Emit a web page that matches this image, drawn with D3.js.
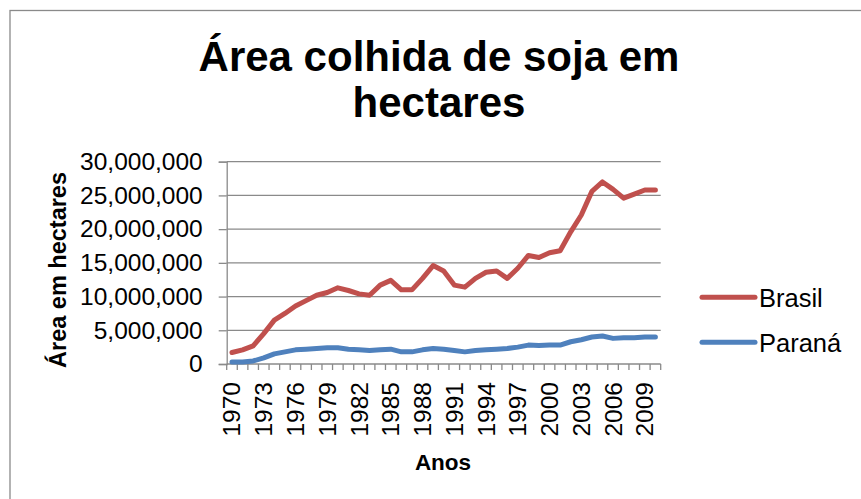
<!DOCTYPE html>
<html><head><meta charset="utf-8">
<script src="https://cdn.jsdelivr.net/npm/d3@7"></script>
<style>body{margin:0;background:#fff}svg{display:block}text{font-family:"Liberation Sans",Arial,sans-serif;fill:#000}</style>
</head><body>
<svg id="c" width="861" height="499"></svg>
<script>
const years = d3.range(1970, 2011);
const brasil = [1.7,2.1,2.7,4.5,6.5,7.5,8.6,9.4,10.2,10.6,11.3,10.9,10.4,10.2,11.7,12.4,11.0,11.0,12.7,14.6,13.8,11.7,11.4,12.7,13.6,13.8,12.7,14.2,16.1,15.8,16.5,16.8,19.6,22.1,25.6,27.0,25.9,24.6,25.2,25.8,25.8].map(v=>v*1e6);
const parana = [0.3,0.3,0.45,0.9,1.5,1.8,2.1,2.2,2.3,2.4,2.4,2.2,2.1,2.0,2.1,2.2,1.8,1.8,2.1,2.3,2.2,2.0,1.8,2.0,2.1,2.2,2.3,2.5,2.8,2.75,2.8,2.8,3.3,3.6,4.0,4.15,3.8,3.9,3.9,4.0,4.0].map(v=>v*1e6);
const yTicks = [0,5e6,10e6,15e6,20e6,25e6,30e6];
const xLabelYears = d3.range(1970, 2010, 3);
const seriesNames = ["Brasil","Paraná"];
const colors = ["#C0504D","#4F81BD"];

const svg = d3.select("#c");
const L=226.7, R=660.7, T=161.7, B=364;

svg.append("rect").attr("x",10).attr("y",10.5).attr("width",900).attr("height",600)
  .attr("fill","none").attr("stroke","#8a8a8a").attr("stroke-width",1.3);

const x = d3.scalePoint().domain(years).range([L,R]).padding(0.5);
const xb = d3.scaleBand().domain(years).range([L,R]);
const y = d3.scaleLinear().domain([0,30e6]).range([B,T]);

// title
const title = svg.append("text").attr("text-anchor","middle").attr("font-weight","bold").attr("font-size",42);
title.append("tspan").attr("x",439).attr("y",70.5).text("Área colhida de soja em");
title.append("tspan").attr("x",439).attr("y",117).text("hectares");

// gridlines
svg.append("g").selectAll("line").data(yTicks.slice(1)).join("line")
  .attr("x1",L).attr("x2",R).attr("y1",d=>y(d)).attr("y2",d=>y(d))
  .attr("stroke","#8a8a8a").attr("stroke-width",1.3);

// y axis
const yAxis = svg.append("g").attr("transform",`translate(${L},0)`)
  .call(d3.axisLeft(y).tickValues(yTicks).tickSize(8).tickPadding(16).tickFormat(d3.format(",")));
yAxis.select(".domain").attr("stroke","#8a8a8a").attr("stroke-width",1.3);
yAxis.selectAll(".tick line").attr("stroke","#8a8a8a").attr("stroke-width",1.3);
yAxis.selectAll("text").attr("font-size",24.5).attr("font-family","Liberation Sans, Arial, sans-serif").attr("fill","#000");

// x axis
svg.append("line").attr("x1",L).attr("x2",R).attr("y1",B).attr("y2",B).attr("stroke","#8a8a8a").attr("stroke-width",1.3);
const bounds = years.map(d=>xb(d)).concat([R]);
svg.append("g").selectAll("line").data(bounds).join("line")
  .attr("x1",d=>d).attr("x2",d=>d).attr("y1",B).attr("y2",B+6)
  .attr("stroke","#8a8a8a").attr("stroke-width",1.3);
svg.append("g").selectAll("text").data(xLabelYears).join("text")
  .attr("transform",d=>`translate(${x(d)+8.5},${B+18}) rotate(-90)`)
  .attr("text-anchor","end").attr("font-size",24.5).text(d=>d);

// axis titles
svg.append("text").attr("transform","translate(66,270) rotate(-90)").attr("text-anchor","middle")
  .attr("font-weight","bold").attr("font-size",23.5).text("Área em hectares");
svg.append("text").attr("x",443).attr("y",470).attr("text-anchor","middle")
  .attr("font-weight","bold").attr("font-size",22.5).text("Anos");

// lines
const line = d3.line().x((d,i)=>x(years[i])).y(d=>y(d));
[brasil,parana].forEach((s,k)=>{
  svg.append("path").datum(s).attr("d",line).attr("fill","none")
    .attr("stroke",colors[k]).attr("stroke-width",5).attr("stroke-linejoin","round").attr("stroke-linecap","round");
});

// legend
const lg = svg.append("g");
const legY=[297.3,342.3];
seriesNames.forEach((n,k)=>{
  lg.append("line").attr("x1",702).attr("x2",755).attr("y1",legY[k]).attr("y2",legY[k])
    .attr("stroke",colors[k]).attr("stroke-width",5).attr("stroke-linecap","round");
  lg.append("text").attr("x",759).attr("y",legY[k]+9.3).attr("font-size",25.5).text(n);
});
</script>
</body></html>
